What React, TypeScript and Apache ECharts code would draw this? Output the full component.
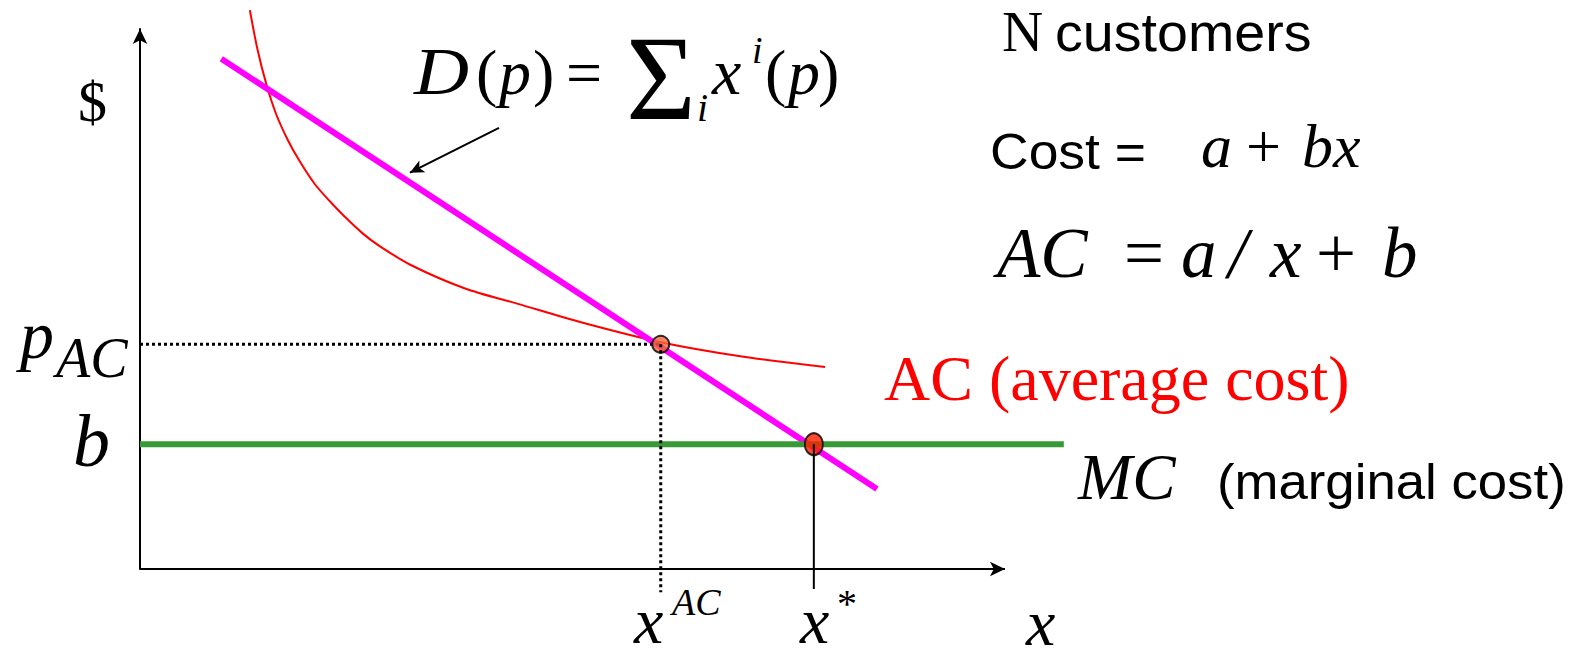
import React, { useEffect, useRef } from "react";
import * as echarts from "echarts";

// ---- data (chart units: quantity x, price $ y; axes drawn 0..100) ----
const acCurve: [number, number][] = [
  [12.7, 103.5], [13.6, 96.1], [14.6, 89.8], [15.7, 84.4], [17.1, 79.4],
  [18.5, 75.4], [20.2, 71.3], [22.0, 68.0], [23.7, 65.2], [25.7, 62.2],
  [27.7, 59.8], [31.3, 56.3], [37.5, 52.0], [43.7, 49.1], [51.2, 45.6],
  [60.2, 42.0], [69.4, 39.4], [79.2, 37.4],
];
const demand: [number, number][] = [[9.4, 94.5], [85.2, 14.8]];
const mcLevel = 23.1;
const mcExtent = [0, 106.8];
const xAC = 60.2;
const pAC = 41.6;
const xStar = 77.9;
const guideBottomAC = -4.3;
const guideBottomStar = -3.7;
const pointer: [number, number][] = [[41.5, 81.7], [31.2, 73.4]];
const xAxisEnd = 100;
const xRangeMax = 110;
const yRangeMax = 100;

const SERIF = '"Liberation Serif", "Times New Roman", serif';
const SANS = '"Liberation Sans", Arial, sans-serif';

type TOpt = { family?: string; italic?: boolean; color?: string; sx?: number };
const T = (text: string, x: number, baseline: number, size: number, o: TOpt = {}) => {
  const family = o.family || SERIF;
  const k = family === SANS ? 0.347 : 0.338;
  return {
    type: "text",
    x,
    y: baseline - k * size,
    scaleX: o.sx || 1,
    silent: true,
    style: {
      text,
      fontSize: size,
      fontFamily: family,
      fontStyle: o.italic ? "italic" : "normal",
      fill: o.color || "#000",
      align: "left",
      verticalAlign: "middle",
      textAlign: "left",
      textVerticalAlign: "middle",
    },
  };
};

export default function App() {
  const ref = useRef<HTMLDivElement>(null);
  useEffect(() => {
    document.body.style.margin = "0";
    const chart = echarts.init(ref.current!, undefined, { renderer: "svg" });
    const hidden = {
      axisTick: { show: false },
      axisLabel: { show: false },
      splitLine: { show: false },
    };
    chart.setOption({
      animation: false,
      backgroundColor: "#fff",
      grid: { left: 140, top: 29, width: 8.65 * xRangeMax, height: 540 },
      xAxis: {
        type: "value",
        min: 0,
        max: xRangeMax,
        axisLine: { show: false },
        ...hidden,
      },
      yAxis: {
        type: "value",
        min: 0,
        max: yRangeMax,
        axisLine: {
          show: true,
          onZero: false,
          symbol: ["none", "arrow"],
          symbolSize: [11, 15],
          lineStyle: { color: "#000", width: 2 },
        },
        ...hidden,
      },
      series: [
        {
          type: "line",
          data: acCurve,
          smooth: 0.3,
          showSymbol: false,
          clip: false,
          lineStyle: { color: "#ff0000", width: 2 },
          z: 2,
        },
        {
          type: "line",
          data: demand,
          showSymbol: false,
          clip: false,
          lineStyle: { color: "#ff00ff", width: 6 },
          z: 3,
          markLine: {
            silent: true,
            symbol: ["none", "arrow"],
            symbolSize: [10, 14],
            label: { show: false },
            lineStyle: { color: "#000", width: 2, type: "solid" },
            data: [[{ coord: pointer[0] }, { coord: pointer[1] }]],
          },
        },
        {
          type: "line",
          data: [[mcExtent[0], mcLevel], [mcExtent[1], mcLevel]],
          showSymbol: false,
          clip: false,
          lineStyle: { color: "#379a37", width: 6 },
          z: 4,
        },
        {
          type: "line",
          data: [[0, pAC], [xAC, pAC]],
          showSymbol: false,
          clip: false,
          lineStyle: { color: "#000", width: 3, type: [3, 3] },
          z: 5,
        },
        {
          type: "scatter",
          data: [[xAC, pAC]],
          symbol: "circle",
          symbolSize: 17,
          itemStyle: { color: "#f4683a", borderColor: "#000", borderWidth: 2 },
          z: 6,
        },
        {
          type: "scatter",
          data: [[xStar, mcLevel]],
          symbol: "circle",
          symbolSize: [18, 22],
          itemStyle: { color: "#ff1e00", borderColor: "#000", borderWidth: 2 },
          z: 6,
        },
        {
          type: "line",
          data: [[xAC, pAC], [xAC, guideBottomAC]],
          showSymbol: false,
          clip: false,
          lineStyle: { color: "#000", width: 3, type: [3, 3] },
          z: 7,
        },
        {
          type: "line",
          data: [[xStar, mcLevel], [xStar, guideBottomStar]],
          showSymbol: false,
          clip: false,
          lineStyle: { color: "#000", width: 2 },
          z: 7,
          markLine: {
            silent: true,
            symbol: ["none", "arrow"],
            symbolSize: [11, 15],
            label: { show: false },
            lineStyle: { color: "#000", width: 2, type: "solid" },
            data: [[{ coord: [0, 0] }, { coord: [xAxisEnd, 0] }]],
          },
        },
      ],
      graphic: [
        T("$", 78, 121, 58),
        T("p", 20, 358, 68, { italic: true }),
        T("AC", 56, 377, 56, { italic: true }),
        T("b", 73, 466, 74, { italic: true }),
        // D(p) = Σ_i x^i(p)
        T("D", 414, 94, 68, { italic: true, sx: 1.12 }),
        T("(", 476, 94, 64),
        T("p", 499, 94, 64, { italic: true }),
        T(")", 533, 94, 64),
        T("=", 566, 94, 64),
        T("Σ", 626, 119, 120),
        T("i", 697, 121, 40, { italic: true }),
        T("x", 712, 94, 66, { italic: true }),
        T("i", 752, 63, 38, { italic: true }),
        T("(", 765, 94, 64),
        T("p", 788, 94, 64, { italic: true }),
        T(")", 818, 94, 64),
        // right side notes
        T("N", 1002, 51, 57),
        T("customers", 1055, 51, 54, { family: SANS, sx: 1.03 }),
        T("Cost =", 990, 169, 50, { family: SANS, sx: 1.07 }),
        T("a", 1201, 167, 62, { italic: true }),
        T("+", 1246, 167, 62),
        T("bx", 1302, 167, 62, { italic: true }),
        T("AC", 997, 277, 71, { italic: true }),
        T("=", 1124, 277, 71),
        T("a", 1181, 277, 71, { italic: true }),
        T("/", 1228, 277, 71, { italic: true }),
        T("x", 1270, 277, 71, { italic: true }),
        T("+", 1316, 277, 71),
        T("b", 1382, 277, 71, { italic: true }),
        T("AC (average cost)", 884, 400, 64, { color: "#ff0000" }),
        T("MC", 1078, 499, 65, { italic: true }),
        T("(marginal cost)", 1217, 499, 50, { family: SANS, sx: 1.055 }),
        T("x", 634, 643, 66, { italic: true }),
        T("AC", 672, 615, 38, { italic: true }),
        T("x", 800, 643, 66, { italic: true }),
        T("*", 837, 617, 40),
        T("x", 1026, 645, 66, { italic: true }),
      ],
    });
    return () => chart.dispose();
  }, []);
  return <div ref={ref} style={{ width: 1583, height: 650 }} />;
}
